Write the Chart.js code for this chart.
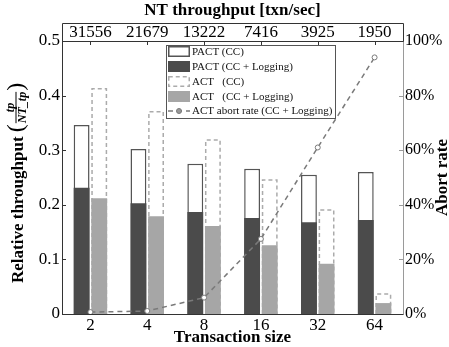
<!DOCTYPE html>
<html>
<head>
<meta charset="utf-8">
<script src="https://cdn.jsdelivr.net/npm/chart.js@4/dist/chart.umd.min.js"></script>
<style>
html,body{margin:0;padding:0;background:#fff;}
canvas{display:block;}
</style>
</head>
<body>
<canvas id="c" width="449" height="347"></canvas>
<script>
const categories = ['2', '4', '8', '16', '32', '64'];
const ntThroughput = ['31556', '21679', '13222', '7416', '3925', '1950'];
const pactCC = [0.346, 0.302, 0.275, 0.266, 0.255, 0.260];
const pactLog = [0.231, 0.203, 0.187, 0.176, 0.168, 0.172];
const actCC = [0.414, 0.372, 0.320, 0.247, 0.192, 0.038];
const actLog = [0.212, 0.179, 0.161, 0.126, 0.092, 0.020];
const abortRate = [0.007, 0.011, 0.06, 0.275, 0.61, 0.94];
const legendLabels = ['PACT (CC)', 'PACT (CC + Logging)', 'ACT   (CC)', 'ACT   (CC + Logging)', 'ACT abort rate (CC + Logging)'];

const SERIF = "'Liberation Serif', 'Times New Roman', serif";
const C_DARK = '#4b4b4b', C_LIGHT = '#a6a6a6', C_BORDER = '#555', C_DASH = '#ababab', C_LINE = '#7a7a7a';
const NOGRID = { display: false, drawTicks: false, tickLength: 0 };

const decor = {
  id: 'decor',
  beforeDraw(chart) {
    const c = chart.ctx;
    c.save(); c.fillStyle = '#fff'; c.fillRect(0, 0, chart.width, chart.height); c.restore();
  },
  afterDatasetDraw(chart, args) {
    if (args.index !== 2) return;
    const c = chart.ctx;
    c.save();
    c.strokeStyle = C_DASH; c.lineWidth = 1.5; c.setLineDash([4, 3]);
    args.meta.data.forEach(el => {
      const p = el.getProps(['x', 'y', 'base', 'width'], true);
      const l = p.x - p.width / 2 + 0.75, r = p.x + p.width / 2 - 0.75, t = p.y + 0.75;
      c.beginPath(); c.moveTo(l, p.base); c.lineTo(l, t); c.lineTo(r, t); c.lineTo(r, p.base); c.stroke();
    });
    c.restore();
  },
  afterDraw(chart) {
    const c = chart.ctx, a = chart.chartArea;
    const sy = chart.scales.y, sy1 = chart.scales.y1, sx2 = chart.scales.x2;
    const boxTop = a.top - 18;
    c.save();
    c.setLineDash([]);
    c.strokeStyle = '#9a9a9a'; c.lineWidth = 1;
    c.beginPath(); c.moveTo(a.right + 0.5, a.top); c.lineTo(a.right + 0.5, a.bottom + 0.5); c.stroke();
    sy1.ticks.forEach(t => {
      const py = Math.round(sy1.getPixelForValue(t.value)) + 0.5;
      c.beginPath(); c.moveTo(a.right, py); c.lineTo(a.right - 4, py); c.stroke();
    });
    c.strokeStyle = '#333';
    c.beginPath();
    c.moveTo(a.left + 0.5, boxTop + 0.5); c.lineTo(a.left + 0.5, a.bottom + 0.5); c.lineTo(a.right + 0.5, a.bottom + 0.5);
    c.stroke();
    c.beginPath();
    c.moveTo(a.left + 0.5, boxTop + 0.5); c.lineTo(a.right + 0.5, boxTop + 0.5); c.lineTo(a.right + 0.5, a.top + 0.5); c.lineTo(a.left + 0.5, a.top + 0.5);
    c.stroke();
    sy.ticks.forEach(t => {
      const py = Math.round(sy.getPixelForValue(t.value)) + 0.5;
      c.beginPath(); c.moveTo(a.left, py); c.lineTo(a.left + 4, py); c.stroke();
    });
    ntThroughput.forEach((_, i) => {
      const px = Math.round(sx2.getPixelForValue(i)) + 0.5;
      c.beginPath(); c.moveTo(px, a.top); c.lineTo(px, a.top + 4); c.stroke();
    });

    // legend
    const lx = a.left + 104, ly = a.top + 4, lw = 169, lh = 73;
    c.fillStyle = '#fff'; c.fillRect(lx, ly, lw, lh);
    c.strokeStyle = '#555'; c.lineWidth = 1;
    c.strokeRect(lx + 0.5, ly + 0.5, lw, lh);
    const sw = 22, sh = 11, sx = lx + 2;
    const rows = [ly + 6.5, ly + 21.5, ly + 36.5, ly + 51.5, ly + 66];
    c.fillStyle = '#fff'; c.fillRect(sx, rows[0] - sh / 2, sw, sh);
    c.strokeStyle = C_BORDER; c.lineWidth = 1.5; c.strokeRect(sx + 0.75, rows[0] - sh / 2 + 0.75, sw - 1.5, sh - 1.5);
    c.fillStyle = C_DARK; c.fillRect(sx, rows[1] - sh / 2, sw, sh);
    c.strokeStyle = C_DASH; c.lineWidth = 1.5; c.setLineDash([4, 3]);
    c.strokeRect(sx + 0.75, rows[2] - sh / 2 + 0.75, sw - 1.5, sh - 1.5);
    c.setLineDash([]);
    c.fillStyle = C_LIGHT; c.fillRect(sx, rows[3] - sh / 2, sw, sh);
    c.strokeStyle = C_LINE; c.lineWidth = 1.5; c.setLineDash([5, 4]);
    c.beginPath(); c.moveTo(sx, rows[4]); c.lineTo(sx + sw, rows[4]); c.stroke();
    c.setLineDash([]);
    c.fillStyle = '#999'; c.beginPath(); c.arc(sx + sw / 2, rows[4], 2.5, 0, Math.PI * 2); c.fill();
    c.strokeStyle = C_LINE; c.lineWidth = 1; c.stroke();
    c.fillStyle = '#111'; c.font = '11px ' + SERIF; c.textBaseline = 'middle'; c.textAlign = 'left';
    legendLabels.forEach((t, i) => c.fillText(t, sx + sw + 2, rows[i] + 0.5));

    // right title
    c.fillStyle = '#000';
    c.save();
    c.translate(443, (a.top + a.bottom) / 2);
    c.rotate(-Math.PI / 2);
    c.font = 'bold 17px ' + SERIF; c.textAlign = 'center'; c.textBaseline = 'middle';
    c.fillText('Abort rate', 0, 0);
    c.restore();

    // left title with fraction
    c.save();
    c.translate(19, a.bottom - 31);
    c.rotate(-Math.PI / 2);
    c.font = 'bold 17px ' + SERIF; c.textAlign = 'left'; c.textBaseline = 'middle';
    const t1 = 'Relative throughput ';
    c.fillText(t1, 0, 0);
    let px = c.measureText(t1).width;
    c.font = '24px ' + SERIF;
    c.fillText('(', px, -2);
    px += c.measureText('(').width + 1;
    c.font = 'italic bold 12px ' + SERIF;
    const num = 'tp', den = 'NT_tp';
    const wd = c.measureText(den).width, wn = c.measureText(num).width;
    c.textBaseline = 'alphabetic';
    c.fillText(num, px + (wd - wn) / 2, -5);
    c.fillText(den, px, 7);
    c.fillRect(px, -3.5, wd, 1);
    px += wd + 1;
    c.font = '24px ' + SERIF; c.textBaseline = 'middle';
    c.fillText(')', px, -2);
    c.restore();

    c.restore();
  }
};

const barCommon = { categoryPercentage: 0.62, barPercentage: 0.9, xAxisID: 'x', yAxisID: 'y' };

new Chart(document.getElementById('c'), {
  type: 'bar',
  data: {
    labels: categories,
    datasets: [
      Object.assign({ label: legendLabels[0], data: pactCC, stack: 'P', backgroundColor: '#fff', borderColor: C_BORDER,
        borderWidth: { top: 1.5, left: 1.5, right: 1.5, bottom: 0 }, order: 2 }, barCommon),
      Object.assign({ label: legendLabels[1], data: pactLog, stack: 'P', backgroundColor: C_DARK, borderWidth: 0, order: 1 }, barCommon),
      Object.assign({ label: legendLabels[2], data: actCC, stack: 'A', backgroundColor: '#fff', borderWidth: 0, order: 2 }, barCommon),
      Object.assign({ label: legendLabels[3], data: actLog, stack: 'A', backgroundColor: C_LIGHT, borderWidth: 0, order: 1 }, barCommon),
      { type: 'line', label: legendLabels[4], data: abortRate, xAxisID: 'x', yAxisID: 'y1', borderColor: C_LINE, borderWidth: 1.5,
        borderDash: [5, 4], pointRadius: 2.5, pointBackgroundColor: '#fff', pointBorderColor: C_LINE, pointBorderWidth: 1,
        fill: false, tension: 0, order: 0 }
    ]
  },
  options: {
    responsive: false, animation: false, devicePixelRatio: 1,
    layout: { padding: 0 },
    plugins: { legend: { display: false }, tooltip: { enabled: false } },
    scales: {
      x: {
        type: 'category', position: 'bottom', stacked: true, offset: true,
        grid: NOGRID, border: { display: false },
        ticks: { font: { family: SERIF, size: 17 }, color: '#000', padding: 1, maxRotation: 0, autoSkip: false },
        title: { display: true, text: 'Transaction size', font: { family: SERIF, size: 17, weight: 'bold' }, color: '#000', padding: { top: 0, bottom: -1 } },
        afterFit: s => { s.height = 33; }
      },
      x2: {
        type: 'category', position: 'top', labels: ntThroughput, offset: true,
        grid: NOGRID, border: { display: false },
        ticks: { font: { family: SERIF, size: 17 }, color: '#000', padding: -2, maxRotation: 0, autoSkip: false },
        title: { display: true, text: 'NT throughput [txn/sec]', font: { family: SERIF, size: 17, weight: 'bold' }, color: '#000', padding: 0 },
        afterFit: s => { s.height = 41; }
      },
      y: {
        position: 'left', min: 0, max: 0.5, stacked: false,
        grid: NOGRID, border: { display: false },
        ticks: { stepSize: 0.1, font: { family: SERIF, size: 17 }, color: '#000', padding: 2 },
        afterFit: s => { s.width = 62; }
      },
      y1: {
        position: 'right', min: 0, max: 1,
        grid: NOGRID, border: { display: false },
        ticks: { stepSize: 0.2, font: { family: SERIF, size: 16 }, color: '#000', padding: 2,
          callback: v => Math.round(v * 100) + '%' },
        afterFit: s => { s.width = 46; }
      }
    }
  },
  plugins: [decor]
});
</script>
</body>
</html>
